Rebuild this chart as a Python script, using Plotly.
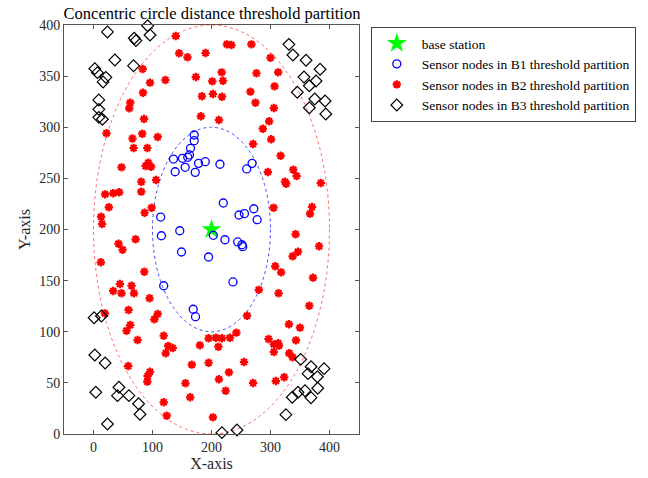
import plotly.graph_objects as go

# Base station
bs_x = [200]
bs_y = [200]

# B1 partition (inner circle, r <= 100)
b1_x = [170.7, 170.7, 164.4, 162.7, 159.8, 150.8, 135.5, 178.0, 189.4, 138.4, 155.4, 172.4,
        214.3, 268.8, 259.7, 220.0, 271.7, 246.6, 255.8, 277.3, 113.9, 146.2, 115.1, 203.0,
        222.8, 244.4, 251.7, 252.9, 149.1, 195.0, 236.4, 119.0, 169.0, 172.9]
b1_y = [292.4, 286.9, 279.4, 272.9, 270.6, 269.6, 268.9, 264.7, 266.3, 256.5, 260.8, 255.9,
        263.8, 264.7, 259.2, 225.9, 220.3, 214.2, 215.5, 209.6, 212.2, 198.8, 193.9, 194.3,
        190.0, 187.8, 185.1, 183.2, 178.0, 173.1, 148.7, 145.0, 122.0, 114.7]

# B2 partition (ring, 100 < r <= 200)
b2_x = [139.4, 226.2, 233.7, 267.7, 145.2, 159.3, 190.0, 300.0, 83.3, 217.2, 276.2, 313.0,
        173.5, 201.3, 219.4, 95.8, 121.9, 306.9, 266.0, 83.9, 183.7, 202.4, 217.7, 274.5,
        62.3, 60.6, 305.7, 182.0, 85.6, 212.6, 297.7, 287.0, 22.0, 82.7, 108.8, 66.0,
        301.1, 270.5, 68.0, 91.2, 317.1,
        47.5, 92.9, 88.3, 97.5, 81.0, 106.0, 19.7, 33.4, 43.6, 81.0, 26.0, 12.9,
        14.6, 86.6, 98.6, 71.4, 42.4, 49.2, 12.4, 86.1, 44.8, 64.5, 33.4, 47.5,
        68.6, 95.1,
        295.5, 338.6, 344.3, 324.4, 326.6, 385.2, 305.2, 370.4, 367.0, 342.6, 382.3, 346.6,
        337.5, 308.0, 318.1, 372.1, 280.2,
        19.2, 59.4, 108.8, 103.1, 62.3, 56.0, 74.7, 119.0, 126.5, 134.3, 122.4, 180.3,
        195.1, 207.5, 217.7, 231.3, 242.2, 211.6, 58.9, 95.8, 91.7, 91.2, 166.6, 195.1,
        155.9, 163.9, 212.6, 224.0, 229.6, 119.0, 124.1, 202.4,
        313.7, 365.8, 260.3, 331.2, 350.0, 296.7, 343.1, 305.7, 313.0, 314.2, 305.7, 331.8,
        337.5, 255.1, 270.5, 309.1, 323.2]
b2_y = [389.2, 381.1, 380.4, 381.1, 372.3, 368.4, 372.6, 368.0, 357.0, 353.7, 352.8, 353.7,
        349.1, 344.9, 345.5, 343.6, 346.2, 340.0, 334.8, 333.8, 330.3, 332.5, 329.9, 324.0,
        324.0, 318.5, 318.8, 310.7, 308.1, 307.1, 305.8, 298.6, 294.1, 293.7, 290.5, 289.0,
        288.2, 283.6, 279.7, 279.7, 272.2,
        260.8, 265.3, 262.1, 261.4, 246.7, 248.4, 234.4, 235.4, 236.4, 237.0, 221.7, 212.5,
        205.4, 216.4, 221.3, 190.4, 186.1, 180.2, 167.9, 158.7, 146.7, 145.0, 139.9, 137.6,
        137.6, 132.7,
        256.2, 258.5, 252.3, 246.7, 244.8, 245.5, 221.3, 222.0, 215.5, 195.3, 183.6, 178.3,
        173.8, 164.0, 158.1, 152.9, 141.0,
        118.0, 121.3, 117.4, 112.2, 106.6, 101.0, 91.9, 96.1, 86.1, 84.1, 78.9, 86.7,
        93.6, 94.2, 93.6, 94.2, 99.1, 85.4, 66.5, 60.9, 56.7, 51.2, 67.8, 69.7,
        49.6, 35.9, 53.5, 42.3, 60.3, 31.0, 17.9, 16.3,
        137.6, 125.5, 115.7, 107.3, 104.0, 92.9, 91.6, 87.7, 88.7, 86.4, 80.2, 78.9,
        75.0, 70.4, 49.9, 51.8, 55.5]

# B3 partition (outside r = 200)
b3_x = [23.7, 91.8, 95.8, 69.1, 72.0, 36.2, 67.9, 2.2, 6.6, 20.9, 16.3, 9.0, 9.0, 9.0, 15.1,
        331.2, 338.0, 360.2, 384.0, 356.8, 377.2, 365.8, 345.4, 375.0, 392.5, 365.8, 393.7,
        1.0, 13.4, 2.2, 19.7, 3.9, 43.1, 40.7, 60.1, 76.4, 78.8, 23.7, 217.7, 243.2,
        351.1, 368.7, 390.8, 363.6, 379.4, 380.1, 358.5, 346.6, 336.9, 368.7, 326.1]
b3_y = [393.2, 399.3, 390.2, 387.0, 384.7, 365.8, 360.2, 357.3, 353.4, 348.8, 344.3, 326.7,
        317.5, 309.7, 307.8,
        381.1, 370.7, 365.5, 356.7, 349.1, 345.2, 340.6, 334.2, 327.6, 325.7, 319.1, 313.0,
        113.7, 115.4, 77.3, 69.4, 40.8, 45.7, 37.5, 37.5, 29.6, 19.3, 9.8, 1.3, 3.9,
        73.0, 65.8, 63.9, 59.0, 56.0, 44.7, 42.3, 40.8, 35.9, 35.5, 18.9]

# Threshold radii around the base station
r_b1 = 100
r_b2 = 200

serif = "Liberation Serif, Times New Roman, serif"

fig = go.Figure()
fig.add_trace(go.Scatter(x=bs_x, y=bs_y, mode="markers", name="base station",
                         marker=dict(symbol="star", size=15, color="#00ff00",
                                     line=dict(width=0)), cliponaxis=False))
fig.add_trace(go.Scatter(x=b1_x, y=b1_y, mode="markers",
                         name="Sensor nodes in B1 threshold partition",
                         marker=dict(symbol="circle-open", size=8, color="#0000ff",
                                     line=dict(width=1.3)), cliponaxis=False))
fig.add_trace(go.Scatter(x=b2_x, y=b2_y, mode="markers",
                         name="Sensor nodes in B2 threshold partition",
                         marker=dict(symbol="asterisk-open", size=7, color="#ff0000",
                                     line=dict(width=2.2, color="#ff0000")), cliponaxis=False))
fig.add_trace(go.Scatter(x=b3_x, y=b3_y, mode="markers",
                         name="Sensor nodes in B3 threshold partition",
                         marker=dict(symbol="diamond-open", size=9, color="#000000",
                                     line=dict(width=1.2)), cliponaxis=False))

# Dotted threshold circles
cx, cy = bs_x[0], bs_y[0]
fig.add_shape(type="circle", xref="x", yref="y",
              x0=cx - r_b1, x1=cx + r_b1, y0=cy - r_b1, y1=cy + r_b1,
              line=dict(color="rgba(40,40,255,0.85)", width=1, dash="dot"), layer="below")
fig.add_shape(type="circle", xref="x", yref="y",
              x0=cx - r_b2, x1=cx + r_b2, y0=cy - r_b2, y1=cy + r_b2,
              line=dict(color="rgba(255,70,70,0.8)", width=1, dash="dot"), layer="below")

axis_common = dict(showgrid=False, zeroline=False, showline=True, linecolor="#555555",
                   linewidth=1, mirror="ticks", ticks="inside", ticklen=4,
                   tickcolor="#555555", automargin=False,
                   tickfont=dict(family=serif, size=14, color="#262626"))

fig.update_layout(
    width=648, height=478,
    margin=dict(l=64, r=287, t=25, b=44),
    paper_bgcolor="white", plot_bgcolor="white",
    title=dict(text="Concentric circle distance threshold partition",
               x=(64 + 148) / 648, xanchor="center", y=1 - 13 / 478, yanchor="middle",
               font=dict(family=serif, size=16.5, color="#000000")),
    xaxis=dict(range=[-50, 450], tickvals=[0, 100, 200, 300, 400],
               title=dict(text="X-axis", font=dict(family=serif, size=16, color="#262626"),
                          standoff=2),
               **axis_common),
    yaxis=dict(range=[0, 400], tickvals=list(range(0, 401, 50)),
               title=dict(text="Y-axis", font=dict(family=serif, size=16, color="#262626"),
                          standoff=4),
               **axis_common),
    legend=dict(x=1.04, xanchor="left", y=0.995, yanchor="top",
                bordercolor="#444444", borderwidth=1, bgcolor="white",
                font=dict(family=serif, size=13.5, color="#000000"),
                itemwidth=40, tracegroupgap=0),
    showlegend=True,
)

fig.write_html("out.html")
